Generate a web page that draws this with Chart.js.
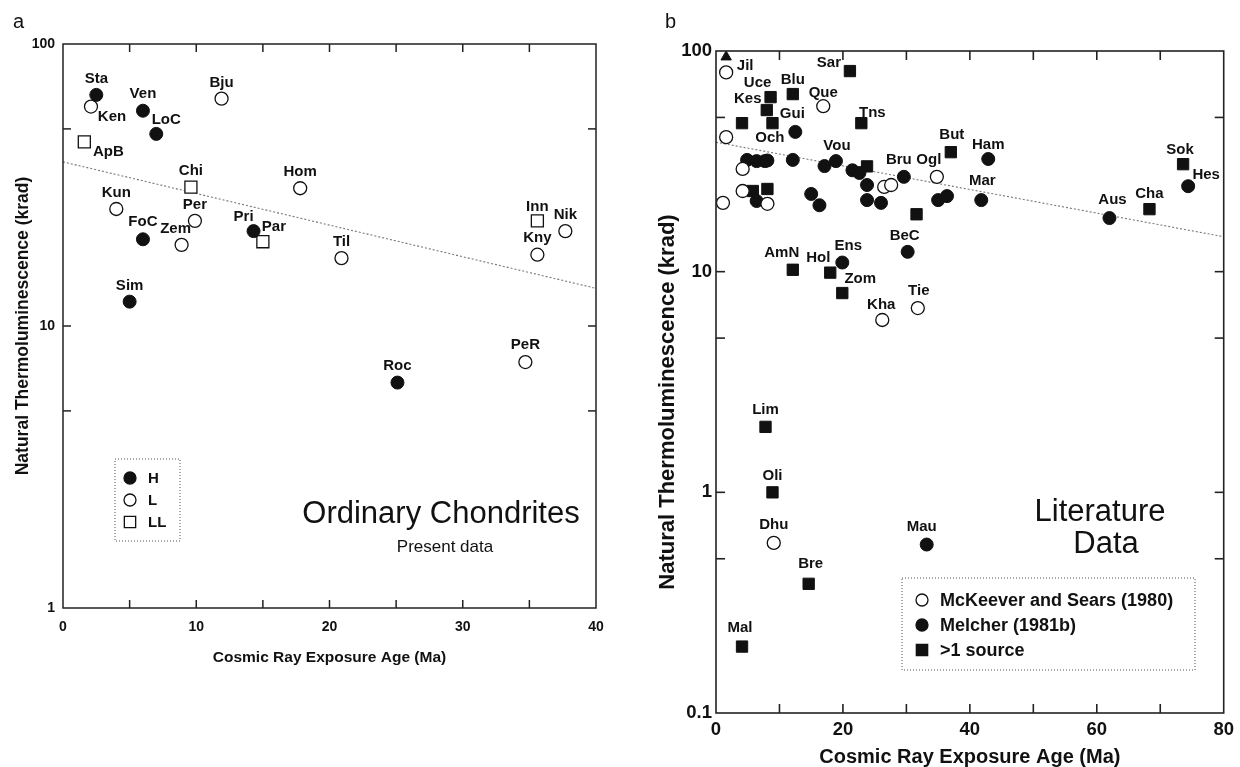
<!DOCTYPE html>
<html>
<head>
<meta charset="utf-8">
<script src="https://cdn.jsdelivr.net/npm/chart.js@4.4.0/dist/chart.umd.min.js"></script>
<style>
  body { margin: 0; background: #fff; width: 1240px; height: 767px; overflow: hidden; position: relative; }
  #wa { position: absolute; left: 0; top: 0; width: 620px; height: 680px; }
  #wb { position: absolute; left: 620px; top: 0; width: 620px; height: 767px; }
</style>
</head>
<body>
<div id="wa"><canvas id="ca"></canvas></div>
<div id="wb"><canvas id="cb"></canvas></div>
<script>
/* PANEL A : present data */
const hNames = ["Sta", "Ven", "LoC", "FoC", "Pri", "Sim", "Roc"];
const hAge = [2.5, 6.0, 7.0, 6.0, 14.3, 5.0, 25.1];
const hTL = [66, 58, 48, 20.3, 21.7, 12.2, 6.3];

const lNames = ["Ken", "Bju", "Hom", "Kun", "Per", "Zem", "Til", "Nik", "Kny", "PeR"];
const lAge = [2.1, 11.9, 17.8, 4.0, 9.9, 8.9, 20.9, 37.7, 35.6, 34.7];
const lTL = [60, 64, 30.8, 26.0, 23.6, 19.4, 17.4, 21.7, 17.9, 7.45];

const llNames = ["ApB", "Chi", "Par", "Inn"];
const llAge = [1.6, 9.6, 15.0, 35.6];
const llTL = [45, 31.1, 19.9, 23.6];

const fitAAge = [0, 40];
const fitATL = [38.2, 13.6];

const aXLabels = [0, 10, 20, 30, 40];
const aYLabels = [1, 10, 100];

/* PANEL B : literature data */
const mksNames = ["Jil", "Que", "", "", "", "", "", "", "", "Ogl", "Kha", "Tie", "Dhu"];
const mksAge = [1.6, 16.9, 1.6, 4.2, 4.2, 8.1, 1.1, 26.5, 27.6, 34.8, 26.2, 31.8, 9.1];
const mksTL = [80, 56.2, 40.7, 29.2, 23.2, 20.3, 20.5, 24.2, 24.7, 26.9, 6.04, 6.84, 0.59];

const melNames = ["Gui", "", "", "Och", "", "", "", "Vou", "", "", "", "", "", "", "", "",
  "Bru", "Ham", "", "", "Mar", "BeC", "Aus", "Hes", "Ens", "Mau"];
const melAge = [12.5, 4.9, 6.4, 7.7, 8.1, 12.1, 17.1, 18.9, 21.5, 22.6, 6.4, 15.0, 16.3, 23.8, 23.8, 26.0,
  29.6, 42.9, 35.0, 36.4, 41.8, 30.2, 62.0, 74.4, 19.9, 33.2];
const melTL = [43.0, 32.1, 31.7, 31.7, 31.9, 32.1, 30.1, 31.7, 28.8, 28.0, 20.9, 22.5, 20.0, 24.7, 21.1, 20.5,
  26.9, 32.4, 21.1, 22.0, 21.1, 12.3, 17.5, 24.4, 11.0, 0.58];

const srcNames = ["Uce", "Blu", "Sar", "Kes", "", "", "Tns", "", "", "", "But", "", "Cha", "Sok",
  "AmN", "Hol", "Zom", "Lim", "Oli", "Bre", "Mal"];
const srcAge = [8.6, 12.1, 21.1, 8.0, 4.1, 8.9, 22.9, 23.8, 5.8, 8.1, 37.0, 31.6, 68.3, 73.6,
  12.1, 18.0, 19.9, 7.8, 8.9, 14.6, 4.1];
const srcTL = [61.8, 63.8, 81.1, 54.0, 47.1, 47.1, 47.1, 30.0, 23.2, 23.7, 34.8, 18.2, 19.2, 30.7,
  10.2, 9.9, 8.0, 1.98, 1.0, 0.385, 0.20];

const arrowAge = [1.6];
const arrowTL = [94];

const fitBAge = [0, 80];
const fitBTL = [38.6, 14.4];

const bXLabels = [0, 20, 40, 60, 80];
const bYLabels = [0.1, 1, 10, 100];

/* label nudges (px, from point centre) */
const shiftA = {
  Ken: [21, 10], Ven: [0, -17], LoC: [10, -14], ApB: [24, 10], FoC: [0, -17], Zem: [-6, -16],
  Pri: [-10, -14], Par: [11, -15], Inn: [0, -14], Kny: [0, -17], Roc: [0, -17], PeR: [0, -17]
};
const shiftB = {
  Jil: [19, -7], Uce: [-13, -14], Blu: [0, -14], Sar: [-21, -8], Que: [0, -13], Kes: [-19, -11],
  Gui: [-3, -18], Tns: [11, -10], Och: [5, -23], Vou: [1, -15], Bru: [-5, -17], Ogl: [-8, -17],
  But: [1, -17], Ham: [0, -14], Mar: [1, -19], Aus: [3, -18], Cha: [0, -15], Sok: [-3, -14],
  Hes: [18, -11], BeC: [-3, -16], AmN: [-11, -17], Hol: [-12, -15], Ens: [6, -17], Zom: [18, -14],
  Kha: [-1, -15], Tie: [1, -17], Lim: [0, -17], Oli: [0, -16], Dhu: [0, -18], Bre: [2, -20],
  Mal: [-2, -19], Mau: [-5, -18]
};

const INK = "#111";
const FONT = "'Liberation Sans', Arial, Helvetica, sans-serif";

const pts = (names, ages, tls) => ages.map((a, i) => ({ x: a, y: tls[i], name: names ? names[i] : "" }));

const scatterSet = (data, style, filled, radius) => ({
  type: "scatter",
  data: data,
  pointStyle: style,
  pointRadius: radius,
  pointHoverRadius: radius,
  pointBackgroundColor: filled ? INK : "#fff",
  pointBorderColor: INK,
  pointBorderWidth: filled ? 1 : 1.3,
  order: 1,
});

const fitSet = (ages, tls) => ({
  type: "line",
  data: ages.map((a, i) => ({ x: a, y: tls[i] })),
  borderColor: "#777",
  borderWidth: 1.1,
  borderDash: [2, 2],
  pointRadius: 0,
  order: 10,
});

function line(ctx, x0, y0, x1, y1) {
  ctx.beginPath();
  ctx.moveTo(x0, y0);
  ctx.lineTo(x1, y1);
  ctx.stroke();
}

function marker(ctx, style, filled, x, y, r) {
  ctx.fillStyle = filled ? INK : "#fff";
  ctx.strokeStyle = INK;
  ctx.lineWidth = 1.3;
  ctx.beginPath();
  if (style === "rect") {
    const s = r * Math.SQRT1_2;
    ctx.rect(x - s, y - s, 2 * s, 2 * s);
  } else {
    ctx.arc(x, y, r, 0, Math.PI * 2);
  }
  ctx.fill();
  ctx.stroke();
}

const framePlugin = {
  id: "frame",
  afterDatasetsDraw(chart, args, o) {
    const { ctx, chartArea: ca, scales } = chart;
    const x = scales.x, y = scales.y;
    ctx.save();

    // point names
    ctx.font = o.labelFont;
    ctx.fillStyle = INK;
    ctx.textAlign = "center";
    ctx.textBaseline = "middle";
    chart.data.datasets.forEach((ds, di) => {
      if (ds.type !== "scatter") return;
      chart.getDatasetMeta(di).data.forEach((el, i) => {
        const nm = ds.data[i].name;
        if (!nm) return;
        const sh = o.shift[nm] || [0, -16];
        ctx.fillText(nm, el.x + sh[0], el.y + sh[1]);
      });
    });

    // frame and inward ticks
    ctx.strokeStyle = "#222";
    ctx.lineWidth = o.lw;
    ctx.strokeRect(ca.left, ca.top, ca.right - ca.left, ca.bottom - ca.top);
    o.xTicks.forEach((v) => {
      const px = x.getPixelForValue(v);
      line(ctx, px, ca.bottom, px, ca.bottom - o.tl);
      line(ctx, px, ca.top, px, ca.top + o.tl);
    });
    o.yTicks.forEach((v) => {
      const py = y.getPixelForValue(v);
      line(ctx, ca.left, py, ca.left + o.tl, py);
      line(ctx, ca.right, py, ca.right - o.tl, py);
    });

    // legend box
    const lg = o.legend;
    ctx.strokeStyle = "#555";
    ctx.lineWidth = 1;
    ctx.setLineDash([1, 2]);
    ctx.strokeRect(lg.box[0], lg.box[1], lg.box[2] - lg.box[0], lg.box[3] - lg.box[1]);
    ctx.setLineDash([]);
    ctx.font = lg.font;
    ctx.textAlign = "left";
    lg.items.forEach((it) => {
      marker(ctx, it.style, it.filled, lg.mx, it.y, it.r);
      ctx.fillStyle = INK;
      ctx.fillText(it.text, lg.tx, it.y + 1);
    });

    // free texts (y title rotated)
    o.texts.forEach((t) => {
      ctx.save();
      ctx.font = t.font;
      ctx.textAlign = t.align;
      ctx.textBaseline = t.rot ? "middle" : "alphabetic";
      ctx.fillStyle = INK;
      ctx.translate(t.x, t.y);
      if (t.rot) ctx.rotate(t.rot);
      ctx.fillText(t.text, 0, 0);
      ctx.restore();
    });
    ctx.restore();
  },
};

function axes(o) {
  return {
    x: {
      type: "linear",
      min: o.xMin,
      max: o.xMax,
      grid: { display: false, drawTicks: false },
      border: { display: false },
      afterBuildTicks: (s) => { s.ticks = o.xLabels.map((v) => ({ value: v })); },
      afterFit: (s) => { s.height = o.xH; },
      ticks: { font: { family: FONT, size: o.tickSize, weight: "bold" }, color: INK, padding: o.xPad, maxRotation: 0 },
      title: {
        display: true, text: "Cosmic Ray Exposure Age (Ma)", color: INK,
        font: { family: FONT, size: o.titleSize, weight: "bold", lineHeight: 1 },
        padding: { top: 0, bottom: o.xTitlePad },
      },
    },
    y: {
      type: "logarithmic",
      min: o.yMin,
      max: o.yMax,
      grid: { display: false, drawTicks: false },
      border: { display: false },
      afterBuildTicks: (s) => { s.ticks = o.yLabels.map((v) => ({ value: v })); },
      afterFit: (s) => { s.width = o.yW; },
      ticks: { font: { family: FONT, size: o.tickSize, weight: "bold" }, color: INK, padding: o.yPad, callback: (v) => String(v) },
      title: { display: false },
    },
  };
}

const common = {
  responsive: true,
  maintainAspectRatio: false,
  animation: false,
  events: [],
  plugins: { legend: { display: false }, tooltip: { enabled: false } },
};

const yTitle = "Natural Thermoluminescence (krad)";

/* CHART A */
new Chart(document.getElementById("ca"), {
  type: "scatter",
  data: {
    datasets: [
      scatterSet(pts(hNames, hAge, hTL), "circle", true, 6.5),
      scatterSet(pts(lNames, lAge, lTL), "circle", false, 6.5),
      scatterSet(pts(llNames, llAge, llTL), "rect", false, 8.5),
      fitSet(fitAAge, fitATL),
    ],
  },
  options: {
    ...common,
    layout: { padding: { left: 0, top: 44, right: 24, bottom: 0 } },
    scales: axes({
      xMin: 0, xMax: 40, yMin: 1, yMax: 100, xLabels: aXLabels, yLabels: aYLabels,
      xH: 72, yW: 63, tickSize: 14, xPad: 11, yPad: 8, titleSize: 15.5, xTitlePad: 15,
    }),
    plugins: {
      ...common.plugins,
      frame: {
        labelFont: "bold 15px " + FONT,
        shift: shiftA,
        lw: 1.5,
        tl: 8,
        xTicks: [5, 10, 15, 20, 25, 30, 35],
        yTicks: [5, 10, 50],
        legend: {
          box: [115, 459, 180, 541], mx: 130, tx: 148, font: "bold 15px " + FONT,
          items: [
            { text: "H", style: "circle", filled: true, r: 6, y: 478 },
            { text: "L", style: "circle", filled: false, r: 6, y: 500 },
            { text: "LL", style: "rect", filled: false, r: 8, y: 522 },
          ],
        },
        texts: [
          { text: "Ordinary Chondrites", x: 441, y: 523, align: "center", font: "31px " + FONT },
          { text: "Present data", x: 445, y: 552, align: "center", font: "17px " + FONT },
          { text: "a", x: 13, y: 28, align: "left", font: "20px " + FONT },
          { text: yTitle, x: 23, y: 326, align: "center", rot: -Math.PI / 2, font: "bold 17.5px " + FONT },
        ],
      },
    },
  },
  plugins: [framePlugin],
});

/* CHART B */
new Chart(document.getElementById("cb"), {
  type: "scatter",
  data: {
    datasets: [
      scatterSet(pts(mksNames, mksAge, mksTL), "circle", false, 6.5),
      scatterSet(pts(melNames, melAge, melTL), "circle", true, 6.5),
      scatterSet(pts(srcNames, srcAge, srcTL), "rect", true, 8),
      scatterSet(pts(null, arrowAge, arrowTL), "triangle", true, 6),
      fitSet(fitBAge, fitBTL),
    ],
  },
  options: {
    ...common,
    layout: { padding: { left: 0, top: 51, right: 13, bottom: 0 } },
    scales: axes({
      xMin: 0, xMax: 80, yMin: 0.1, yMax: 100, xLabels: bXLabels, yLabels: bYLabels,
      xH: 54, yW: 96, tickSize: 18.5, xPad: 6, yPad: 4, titleSize: 20, xTitlePad: 0,
    }),
    plugins: {
      ...common.plugins,
      frame: {
        labelFont: "bold 15px " + FONT,
        shift: shiftB,
        lw: 1.6,
        tl: 9,
        xTicks: [10, 20, 30, 40, 50, 60, 70],
        yTicks: [0.5, 1, 5, 10, 50],
        legend: {
          box: [282, 578, 575, 670], mx: 302, tx: 320, font: "bold 18px " + FONT,
          items: [
            { text: "McKeever and Sears (1980)", style: "circle", filled: false, r: 6, y: 600 },
            { text: "Melcher (1981b)", style: "circle", filled: true, r: 6, y: 625 },
            { text: ">1 source", style: "rect", filled: true, r: 8, y: 650 },
          ],
        },
        texts: [
          { text: "Literature", x: 480, y: 521, align: "center", font: "31px " + FONT },
          { text: "Data", x: 486, y: 553, align: "center", font: "31px " + FONT },
          { text: "b", x: 45, y: 28, align: "left", font: "20px " + FONT },
          { text: yTitle, x: 48, y: 402, align: "center", rot: -Math.PI / 2, font: "bold 22px " + FONT },
        ],
      },
    },
  },
  plugins: [framePlugin],
});
</script>
</body>
</html>
